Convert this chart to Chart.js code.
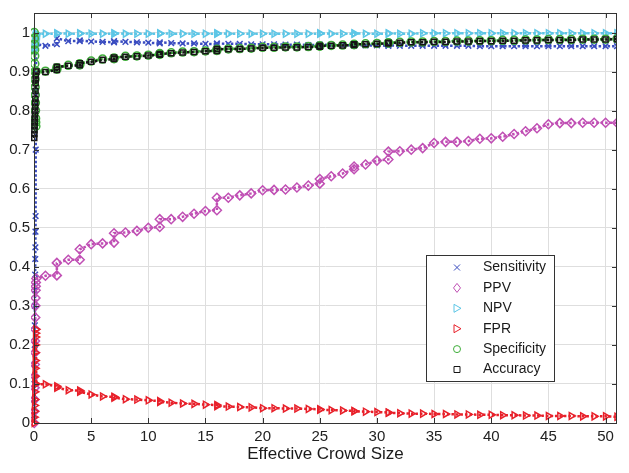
<!DOCTYPE html>
<html>
<head>
<meta charset="utf-8">
<script src="https://cdn.jsdelivr.net/npm/chart.js@4.4.1/dist/chart.umd.min.js"></script>
<style>
  html, body { margin: 0; padding: 0; background: #fff; }
  #wrap { width: 629px; height: 473px; }
</style>
</head>
<body>
<div id="wrap"><canvas id="crowd"></canvas></div>
<script>
// effective crowd size (x); repeated values are the vertical clusters
const crowdSize = [0.02, 0.03, 0.04, 0.05, 0.06, 0.07, 0.08, 0.09, 0.1, 0.11, 0.12, 0.13, 0.14, 0.15, 0.16, 0.2,
  1, 2, 2, 3, 4, 4, 5, 6, 7, 7, 8, 9, 10,
  11, 11, 12, 13, 14, 15, 16, 16, 17, 18, 19, 20,
  21, 22, 23, 24, 25, 25, 26, 27, 28, 28, 29, 30,
  31, 31, 32, 33, 34, 35, 36, 37, 38, 39, 40,
  41, 42, 43, 44, 45, 46, 47, 48, 49, 50, 51];

const sensitivity = [0.02, 0.06, 0.1, 0.15, 0.2, 0.25, 0.3, 0.34, 0.38, 0.42, 0.45, 0.49, 0.53, 0.7, 0.85, 0.97,
  0.966, 0.97, 0.985, 0.978, 0.978, 0.98, 0.977, 0.976, 0.975, 0.978, 0.976, 0.975, 0.974,
  0.972, 0.975, 0.973, 0.972, 0.972, 0.971, 0.970, 0.972, 0.971, 0.971, 0.970, 0.970,
  0.970, 0.969, 0.969, 0.968, 0.968, 0.969, 0.968, 0.968, 0.967, 0.968, 0.967, 0.967,
  0.966, 0.967, 0.966, 0.966, 0.966, 0.966, 0.966, 0.966, 0.966, 0.965, 0.965,
  0.965, 0.965, 0.965, 0.965, 0.965, 0.965, 0.965, 0.965, 0.965, 0.965, 0.965];

const ppv = [0.0, 0.03, 0.06, 0.09, 0.12, 0.15, 0.18, 0.21, 0.24, 0.27, 0.3, 0.32, 0.34, 0.35, 0.36, 0.37,
  0.377, 0.378, 0.41, 0.418, 0.418, 0.445, 0.458, 0.46, 0.462, 0.486, 0.488, 0.492, 0.5,
  0.502, 0.522, 0.522, 0.528, 0.536, 0.543, 0.545, 0.577, 0.577, 0.583, 0.588, 0.596,
  0.597, 0.598, 0.603, 0.608, 0.613, 0.625, 0.632, 0.639, 0.65, 0.657, 0.662, 0.672,
  0.675, 0.695, 0.696, 0.7, 0.704, 0.717, 0.72, 0.72, 0.722, 0.728, 0.729,
  0.733, 0.74, 0.747, 0.755, 0.765, 0.768, 0.768, 0.769, 0.769, 0.769, 0.769];

const npv = [0.955, 0.96, 0.965, 0.97, 0.973, 0.976, 0.979, 0.982, 0.985, 0.988, 0.99, 0.992, 0.994, 0.996, 0.998, 0.997,
  0.997, 0.997, 0.998, 0.997, 0.997, 0.998, 0.997, 0.997, 0.997, 0.998, 0.997, 0.997, 0.997,
  0.997, 0.998, 0.997, 0.997, 0.997, 0.997, 0.997, 0.998, 0.997, 0.997, 0.997, 0.997,
  0.997, 0.997, 0.997, 0.997, 0.997, 0.998, 0.997, 0.997, 0.997, 0.998, 0.997, 0.997,
  0.997, 0.998, 0.997, 0.997, 0.998, 0.998, 0.998, 0.998, 0.998, 0.998, 0.998,
  0.998, 0.998, 0.998, 0.998, 0.998, 0.998, 0.998, 0.998, 0.998, 0.998, 0.998];

const fpr = [0.0, 0.015, 0.03, 0.045, 0.06, 0.08, 0.1, 0.12, 0.14, 0.16, 0.18, 0.2, 0.22, 0.23, 0.24, 0.1,
  0.099, 0.094, 0.09, 0.084, 0.083, 0.08, 0.073, 0.068, 0.067, 0.065, 0.061, 0.06, 0.058,
  0.056, 0.054, 0.052, 0.05, 0.049, 0.047, 0.046, 0.043, 0.042, 0.041, 0.04, 0.038,
  0.038, 0.037, 0.037, 0.036, 0.035, 0.034, 0.033, 0.032, 0.031, 0.03, 0.029, 0.028,
  0.027, 0.026, 0.025, 0.024, 0.024, 0.023, 0.023, 0.022, 0.022, 0.021, 0.021,
  0.02, 0.02, 0.019, 0.019, 0.018, 0.018, 0.018, 0.017, 0.017, 0.017, 0.016];

const specificity = [1.0, 0.985, 0.97, 0.955, 0.94, 0.92, 0.9, 0.88, 0.86, 0.84, 0.82, 0.8, 0.78, 0.77, 0.76, 0.9,
  0.901, 0.906, 0.91, 0.916, 0.917, 0.92, 0.927, 0.932, 0.933, 0.935, 0.939, 0.94, 0.942,
  0.944, 0.946, 0.948, 0.95, 0.951, 0.953, 0.954, 0.957, 0.958, 0.959, 0.96, 0.962,
  0.962, 0.963, 0.963, 0.964, 0.965, 0.966, 0.967, 0.968, 0.969, 0.97, 0.971, 0.972,
  0.973, 0.974, 0.975, 0.976, 0.976, 0.977, 0.977, 0.978, 0.978, 0.979, 0.979,
  0.98, 0.98, 0.981, 0.981, 0.982, 0.982, 0.982, 0.983, 0.983, 0.983, 0.984];

const accuracy = [0.73, 0.74, 0.75, 0.76, 0.77, 0.78, 0.79, 0.8, 0.81, 0.82, 0.83, 0.85, 0.87, 0.88, 0.89, 0.9,
  0.899, 0.904, 0.912, 0.915, 0.916, 0.921, 0.925, 0.93, 0.932, 0.936, 0.938, 0.939, 0.941,
  0.943, 0.945, 0.947, 0.949, 0.95, 0.952, 0.953, 0.958, 0.957, 0.958, 0.959, 0.961,
  0.961, 0.962, 0.962, 0.963, 0.964, 0.966, 0.966, 0.967, 0.968, 0.97, 0.97, 0.971,
  0.972, 0.974, 0.974, 0.975, 0.975, 0.976, 0.976, 0.977, 0.977, 0.978, 0.978,
  0.979, 0.979, 0.98, 0.98, 0.981, 0.981, 0.981, 0.982, 0.982, 0.982, 0.983];

const xTicks = [0, 5, 10, 15, 20, 25, 30, 35, 40, 45, 50];
const yTicks = [0, 0.1, 0.2, 0.3, 0.4, 0.5, 0.6, 0.7, 0.8, 0.9, 1];

const FONT = "'Liberation Sans', Arial, Helvetica, sans-serif";

const seriesInfo = [
  { label: 'Sensitivity', values: sensitivity, color: '#3a4cc0', style: 'crossRot', rot: 0, r: 4 },
  { label: 'PPV', values: ppv, color: '#c04fb4', style: 'rectRot', rot: 0, r: 4.5 },
  { label: 'NPV', values: npv, color: '#5cc6e6', style: 'triangle', rot: 90, r: 4 },
  { label: 'FPR', values: fpr, color: '#e8202a', style: 'triangle', rot: 90, r: 4 },
  { label: 'Specificity', values: specificity, color: '#3fae3a', style: 'circle', rot: 0, r: 4 },
  { label: 'Accuracy', values: accuracy, color: '#151515', style: 'rect', rot: 0, r: 3.6 }
];

function points(vals) {
  return crowdSize.map((x, i) => ({ x: x, y: vals[i] }));
}

const datasets = seriesInfo.map((s, i) => ({
  label: s.label,
  data: points(s.values),
  borderColor: s.color,
  backgroundColor: 'rgba(255,255,255,0)',
  borderWidth: 2.5,
  borderDash: [2.5, 2],
  pointStyle: s.style,
  pointRotation: s.rot,
  pointRadius: s.r,
  pointBorderColor: s.color,
  pointBackgroundColor: 'rgba(255,255,255,0)',
  pointBorderWidth: 1.5,
  tension: 0,
  order: seriesInfo.length - i,   // later series drawn on top, like matlab
  clip: { left: 3, right: 0, top: 6, bottom: 6 }
}));

// box, inward ticks and the legend
const boxPlugin = {
  id: 'boxPlugin',
  afterDraw(chart) {
    const ctx = chart.ctx;
    const a = chart.chartArea;
    const xs = chart.scales.x, ys = chart.scales.y;
    ctx.save();
    ctx.strokeStyle = '#333';
    ctx.lineWidth = 1;
    ctx.strokeRect(a.left + 0.5, a.top + 0.5, a.right - a.left - 1, a.bottom - a.top);
    ctx.beginPath();
    xTicks.forEach(v => {
      const px = Math.round(xs.getPixelForValue(v)) + 0.5;
      ctx.moveTo(px, a.bottom); ctx.lineTo(px, a.bottom - 5);
      ctx.moveTo(px, a.top); ctx.lineTo(px, a.top + 5);
    });
    yTicks.forEach(v => {
      const py = Math.round(ys.getPixelForValue(v)) + 0.5;
      ctx.moveTo(a.left, py); ctx.lineTo(a.left + 5, py);
      ctx.moveTo(a.right, py); ctx.lineTo(a.right - 5, py);
    });
    ctx.stroke();

    // legend
    const lx = 426, ly = 255, lw = 128, lh = 126;
    ctx.fillStyle = '#fff';
    ctx.fillRect(lx, ly, lw, lh);
    ctx.strokeStyle = '#333';
    ctx.strokeRect(lx + 0.5, ly + 0.5, lw, lh);
    ctx.font = '14px ' + FONT;
    ctx.textBaseline = 'middle';
    ctx.textAlign = 'left';
    seriesInfo.forEach((s, i) => {
      const cy = 267.5 + i * 20.4;
      const cx = 457;
      ctx.strokeStyle = s.color;
      ctx.lineWidth = 1;
      ctx.beginPath();
      if (s.style === 'crossRot') {
        ctx.moveTo(cx - 3, cy - 3); ctx.lineTo(cx + 3, cy + 3);
        ctx.moveTo(cx + 3, cy - 3); ctx.lineTo(cx - 3, cy + 3);
      } else if (s.style === 'rectRot') {
        ctx.moveTo(cx, cy - 4.5); ctx.lineTo(cx + 3.5, cy); ctx.lineTo(cx, cy + 4.5); ctx.lineTo(cx - 3.5, cy); ctx.closePath();
      } else if (s.style === 'triangle') {
        ctx.moveTo(cx - 3, cy - 4); ctx.lineTo(cx + 4, cy); ctx.lineTo(cx - 3, cy + 4); ctx.closePath();
      } else if (s.style === 'circle') {
        ctx.arc(cx, cy, 3.5, 0, Math.PI * 2);
      } else {
        ctx.rect(cx - 3, cy - 3, 6, 6);
      }
      ctx.stroke();
      ctx.fillStyle = '#1a1a1a';
      ctx.fillText(s.label, 483, cy);
    });
    ctx.restore();
  }
};

new Chart(document.getElementById('crowd').getContext('2d'), {
  type: 'line',
  data: { datasets: datasets },
  options: {
    responsive: true,
    maintainAspectRatio: false,
    animation: false,
    layout: { padding: { left: 0, top: 11, right: 12, bottom: 0 } },
    plugins: {
      legend: { display: false },
      tooltip: { enabled: false }
    },
    scales: {
      x: {
        type: 'linear',
        min: 0,
        max: 51,
        afterBuildTicks: s => { s.ticks = xTicks.map(v => ({ value: v })); },
        afterFit: s => { s.height = 50; },
        grid: { color: '#dedede', drawTicks: false },
        border: { display: false },
        ticks: { color: '#222', padding: 5, font: { size: 15, family: FONT }, maxRotation: 0,
          callback: v => String(v) },
        title: {
          display: true,
          text: 'Effective Crowd Size',
          color: '#1a1a1a',
          font: { size: 17, family: FONT },
          padding: { top: 0, bottom: 8 }
        }
      },
      y: {
        min: 0,
        max: 1.05,
        afterBuildTicks: s => { s.ticks = yTicks.map(v => ({ value: v })); },
        afterFit: s => { s.width = 34; },
        grid: { color: '#dedede', drawTicks: false },
        border: { display: false },
        ticks: { color: '#222', padding: 4, font: { size: 15, family: FONT },
          callback: v => String(Math.round(v * 10) / 10) }
      }
    }
  },
  plugins: [boxPlugin]
});
</script>
</body>
</html>
